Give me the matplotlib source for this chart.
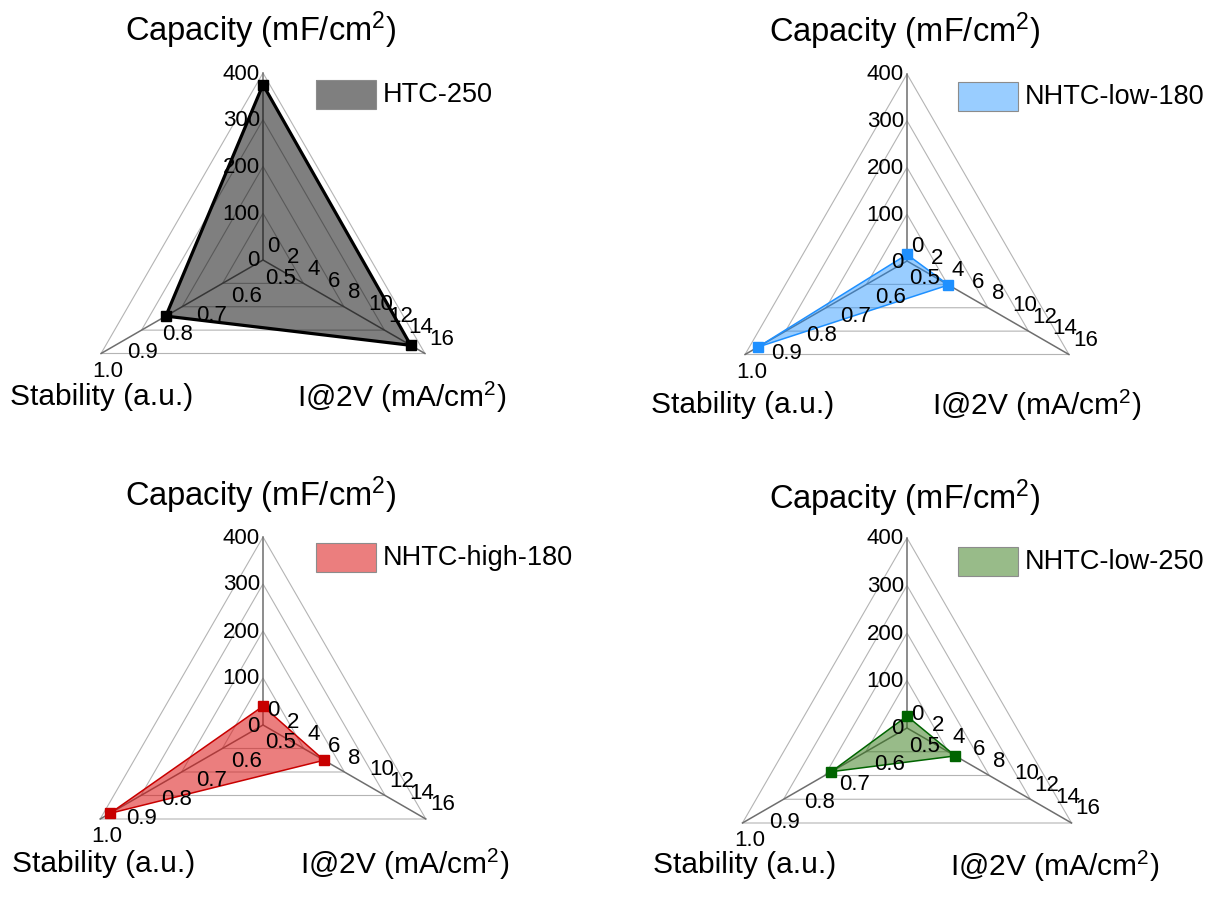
import numpy as np
import matplotlib.pyplot as plt
from matplotlib.patches import Rectangle, Polygon

plt.rcParams['font.family'] = ['Liberation Sans', 'DejaVu Sans']
plt.rcParams['mathtext.fontset'] = 'custom'
plt.rcParams['mathtext.rm'] = 'Liberation Sans'
plt.rcParams['mathtext.default'] = 'regular'

# data
samples = ['HTC-250', 'NHTC-low-180', 'NHTC-high-180', 'NHTC-low-250']
capacity = [375, 14, 40, 25]          # mF/cm2
current = [14.6, 4.1, 6.0, 4.7]       # mA/cm2 @ 2V
stability = [0.80, 0.96, 0.97, 0.73]  # a.u.

cap_ticks = [0, 100, 200, 300, 400]
cur_ticks = [0, 2, 4, 6, 8, 10, 12, 14, 16]
stab_ticks = [0.5, 0.6, 0.7, 0.8, 0.9, 1.0]
cap_range = (0, 400)
cur_range = (0, 16)
stab_range = (0.5, 1.0)

line_colors = ['black', '#1E90FF', '#C80000', '#006400']
fill_colors = ['black', '#1E90FF', '#DC1414', '#327814']
fill_alpha = [0.5, 0.45, 0.55, 0.5]
line_w = [2.3, 1.1, 1.1, 1.1]
mark_s = [7.5, 6.5, 6.5, 6.5]

# layout in pixels (figure is 1205 x 898, y downwards)
centers = [(263, 260), (907, 261), (263, 725), (907, 728)]
radii = [187, 187, 188, 190]
stab_lbl = [(102, 397), (743, 405), (104, 864), (745, 865)]
cur_lbl = [(402, 397), (1037, 405), (405, 864), (1055, 866)]
legend_box = [(316, 80), (958, 82), (316, 543), (958, 547)]

dirs = {'cap': np.array([0.0, -1.0]),
        'cur': np.array([np.cos(np.pi / 6), np.sin(np.pi / 6)]),
        'stab': np.array([-np.cos(np.pi / 6), np.sin(np.pi / 6)])}


def frac(v, rng):
    return (v - rng[0]) / (rng[1] - rng[0])


fig = plt.figure(figsize=(12.05, 8.98), dpi=100)
ax = fig.add_axes([0, 0, 1, 1])
ax.set_xlim(0, 1205)
ax.set_ylim(898, 0)
ax.axis('off')

for i in range(4):
    c = np.array(centers[i], dtype=float)
    R = radii[i]

    # triangular grid
    for k in range(1, 5):
        r = R * k / 4
        pts = [c + r * dirs[d] for d in ('cap', 'cur', 'stab')]
        ax.add_patch(Polygon(pts, closed=True, fill=False, ec='#b4b4b4', lw=0.8, zorder=1))
    for d in ('cap', 'cur', 'stab'):
        e = c + R * dirs[d]
        ax.plot([c[0], e[0]], [c[1], e[1]], color='#6e6e6e', lw=1.1, zorder=1)

    # data polygon
    pts = np.array([c + R * frac(capacity[i], cap_range) * dirs['cap'],
                    c + R * frac(current[i], cur_range) * dirs['cur'],
                    c + R * frac(stability[i], stab_range) * dirs['stab']])
    ax.add_patch(Polygon(pts, closed=True, fc=fill_colors[i], alpha=fill_alpha[i], ec='none', zorder=2))
    closed = np.vstack([pts, pts[:1]])
    ax.plot(closed[:, 0], closed[:, 1], color=line_colors[i], lw=line_w[i], zorder=3)
    ax.plot(pts[:, 0], pts[:, 1], 's', color=line_colors[i], ms=mark_s[i], zorder=4)

    # tick labels
    for t in cap_ticks:
        p = c + R * frac(t, cap_range) * dirs['cap']
        ax.text(p[0] - 3, p[1] + 1, str(t), ha='right', va='center', fontsize=16, zorder=5)
    for t in cur_ticks:
        p = c + R * frac(t, cur_range) * dirs['cur']
        ax.text(p[0] + 4, p[1] - 14, str(t), ha='left', va='center', fontsize=16, zorder=5)
    for k, t in enumerate(stab_ticks):
        p = c + R * frac(t, stab_range) * dirs['stab']
        ax.text(p[0] + 18 - 2.2 * k, p[1] + 18, '%.1f' % t, ha='center', va='center',
                fontsize=16, zorder=5)

    # axis titles
    ax.text(c[0] - 2, c[1] - 230, 'Capacity (mF/cm$^2$)', ha='center', va='center', fontsize=23.5)
    ax.text(stab_lbl[i][0], stab_lbl[i][1], 'Stability (a.u.)', ha='center', va='center', fontsize=21.5)
    ax.text(cur_lbl[i][0], cur_lbl[i][1], 'I@2V (mA/cm$^2$)', ha='center', va='center', fontsize=21.5)

    # legend
    lx, ly = legend_box[i]
    ax.add_patch(Rectangle((lx, ly), 60, 29, fc='white', ec='none', zorder=5))
    ax.add_patch(Rectangle((lx, ly), 60, 29, fc=fill_colors[i], alpha=fill_alpha[i],
                           ec='none', zorder=6))
    ax.add_patch(Rectangle((lx, ly), 60, 29, fill=False, ec='#8c8c8c', lw=0.8, zorder=7))
    ax.text(lx + 67, ly + 15, samples[i], ha='left', va='center', fontsize=19.5)

fig.savefig('out.png', dpi=100)
